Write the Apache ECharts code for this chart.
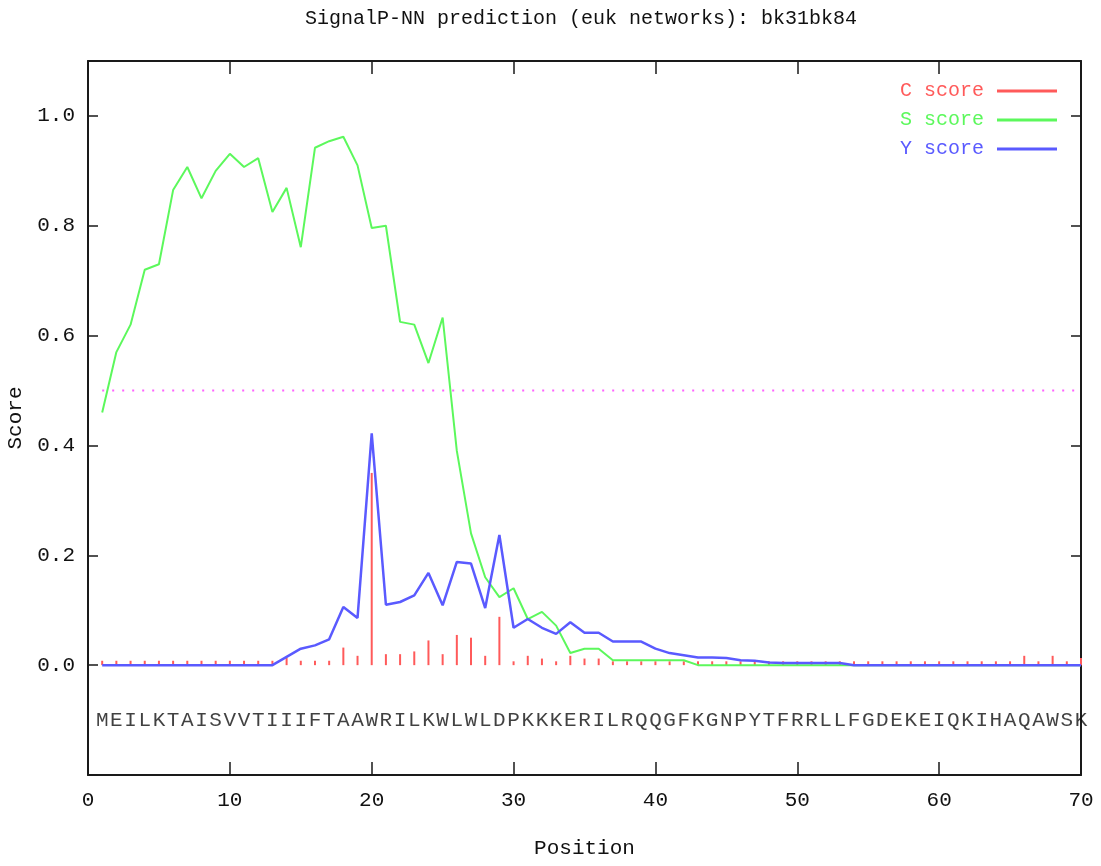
<!DOCTYPE html>
<html><head><meta charset="utf-8">
<script src="https://cdn.jsdelivr.net/npm/echarts@6/dist/echarts.min.js"></script>
<style>html,body{margin:0;padding:0;background:#fff}#c{width:1101px;height:866px}</style>
</head><body><div id="c"></div>
<script>
const titleText = 'SignalP-NN prediction (euk networks): bk31bk84';
const sequence = 'MEILKTAISVVTIIIFTAAWRILKWLWLDPKKKERILRQQGFKGNPYTFRRLLFGDEKEIQKIHAQAWSK'.split('');
const seriesNames = ['C score', 'S score', 'Y score'];
const cScore = [
  0.008,0.008,0.008,0.008,0.008,0.008,0.008,0.008,0.008,0.008,
  0.008,0.008,0.008,0.013,0.008,0.008,0.008,0.032,0.017,0.35,
  0.02,0.02,0.025,0.045,0.02,0.055,0.05,0.017,0.088,0.007,
  0.017,0.012,0.007,0.017,0.012,0.012,0.007,0.007,0.007,0.007,
  0.007,0.007,0.007,0.007,0.007,0.007,0.007,0.007,0.007,0.007,
  0.007,0.007,0.007,0.007,0.007,0.007,0.007,0.007,0.007,0.007,
  0.007,0.007,0.007,0.007,0.007,0.017,0.007,0.017,0.007,0.013
];
const sScore = [
  0.46,0.57,0.62,0.72,0.73,0.865,0.907,0.85,0.90,0.931,
  0.907,0.923,0.825,0.869,0.761,0.942,0.954,0.962,0.91,0.796,
  0.80,0.625,0.62,0.55,0.633,0.39,0.24,0.16,0.124,0.14,
  0.084,0.097,0.072,0.022,0.03,0.03,0.009,0.009,0.009,0.009,
  0.009,0.009,0,0,0,0,0,0,0,0,
  0,0,0,0,0,0,0,0,0,0,
  0,0,0,0,0,0,0,0,0,0
];
const yScore = [
  0,0,0,0,0,0,0,0,0,0,
  0,0,0,0.015,0.03,0.036,0.047,0.106,0.086,0.422,
  0.11,0.115,0.127,0.168,0.109,0.188,0.185,0.104,0.237,0.068,
  0.084,0.068,0.057,0.078,0.059,0.059,0.043,0.043,0.043,0.03,
  0.022,0.018,0.014,0.014,0.013,0.009,0.008,0.005,0.004,0.004,
  0.004,0.004,0.004,0,0,0,0,0,0,0,
  0,0,0,0,0,0,0,0,0,0
];
const threshold = 0.5;
const xMin = 0, xMax = 70, xStep = 10;
const yMin = -0.2, yMax = 1.1, yStep = 0.2;
const seqLevel = -0.1;

const FONT = '"Liberation Mono", "DejaVu Sans Mono", monospace';
const AX = '#1a1a1a';
const RED = '#ff5a5a', GREEN = '#5cf85c', BLUE = '#5a5aff', MAG = '#ff60ff';

const toXY = arr => arr.map((v, i) => [i + 1, v]);

const chart = echarts.init(document.getElementById('c'), null, {renderer: 'canvas'});
chart.setOption({
  animation: false,
  backgroundColor: '#fff',
  title: {
    text: titleText, left: 300, top: 4,
    textStyle: {fontFamily: FONT, fontSize: 20, fontWeight: 'normal', color: '#111'}
  },
  legend: {
    orient: 'vertical', right: 39, top: 76, align: 'right',
    icon: 'rect', itemWidth: 60, itemHeight: 3, itemGap: 9,
    selectedMode: false,
    textStyle: {fontFamily: FONT, fontSize: 20, lineHeight: 20, padding: [0, 8, 0, 0]},
    data: [
      {name: seriesNames[0], textStyle: {color: RED}},
      {name: seriesNames[1], textStyle: {color: GREEN}},
      {name: seriesNames[2], textStyle: {color: BLUE}}
    ]
  },
  grid: {left: 88, top: 61, width: 993, height: 714, containLabel: false, outerBoundsMode: 'none'},
  xAxis: [{
    type: 'value', min: xMin, max: xMax, interval: xStep, position: 'bottom',
    name: 'Position', nameLocation: 'middle', nameGap: 63,
    nameTextStyle: {fontFamily: FONT, fontSize: 21, color: '#111'},
    axisLine: {show: true, onZero: false, lineStyle: {color: AX, width: 2}},
    axisTick: {show: true, inside: true, length: 13, lineStyle: {color: AX, width: 1.5}},
    axisLabel: {fontFamily: FONT, fontSize: 21, color: '#111', margin: 15},
    splitLine: {show: false}
  }, {
    type: 'value', min: xMin, max: xMax, interval: xStep, position: 'top',
    axisLine: {show: true, onZero: false, lineStyle: {color: AX, width: 2}},
    axisTick: {show: true, inside: true, length: 13, lineStyle: {color: AX, width: 1.5}},
    axisLabel: {show: false}, splitLine: {show: false}
  }],
  yAxis: [{
    type: 'value', min: yMin, max: yMax, interval: yStep, position: 'left',
    name: 'Score', nameLocation: 'middle', nameGap: 60, nameRotate: 90,
    nameTextStyle: {fontFamily: FONT, fontSize: 21, color: '#111'},
    axisLine: {show: true, onZero: false, lineStyle: {color: AX, width: 2}},
    axisTick: {show: true, inside: true, length: 10, lineStyle: {color: AX, width: 1.5}},
    axisLabel: {fontFamily: FONT, fontSize: 21, color: '#111', margin: 13,
      formatter: v => (v < -0.01 || v > 1.05) ? '' : v.toFixed(1)},
    splitLine: {show: false}
  }, {
    type: 'value', min: yMin, max: yMax, interval: yStep, position: 'right',
    axisLine: {show: true, onZero: false, lineStyle: {color: AX, width: 2}},
    axisTick: {show: true, inside: true, length: 10, lineStyle: {color: AX, width: 1.5}},
    axisLabel: {show: false}, splitLine: {show: false}
  }],
  series: [
    {
      name: seriesNames[0], type: 'bar', barWidth: 2,
      itemStyle: {color: RED}, data: toXY(cScore)
    },
    {
      name: seriesNames[1], type: 'line', symbol: 'none',
      itemStyle: {color: GREEN}, lineStyle: {color: GREEN, width: 2},
      data: toXY(sScore)
    },
    {
      name: seriesNames[2], type: 'line', symbol: 'none',
      itemStyle: {color: BLUE}, lineStyle: {color: BLUE, width: 2.5},
      data: toXY(yScore)
    },
    {
      name: 'threshold', type: 'line', symbol: 'none', silent: true,
      lineStyle: {color: MAG, width: 2, type: [2, 8]},
      data: [[1, threshold], [sequence.length, threshold]]
    },
    {
      name: 'sequence', type: 'scatter', symbolSize: 1, silent: true,
      itemStyle: {color: 'rgba(0,0,0,0)'},
      label: {show: true, position: 'inside', formatter: p => p.value[2],
        fontFamily: FONT, fontSize: 21, color: '#111'},
      data: sequence.map((ch, i) => [i + 1, seqLevel, ch])
    }
  ]
});
</script>
</body></html>
